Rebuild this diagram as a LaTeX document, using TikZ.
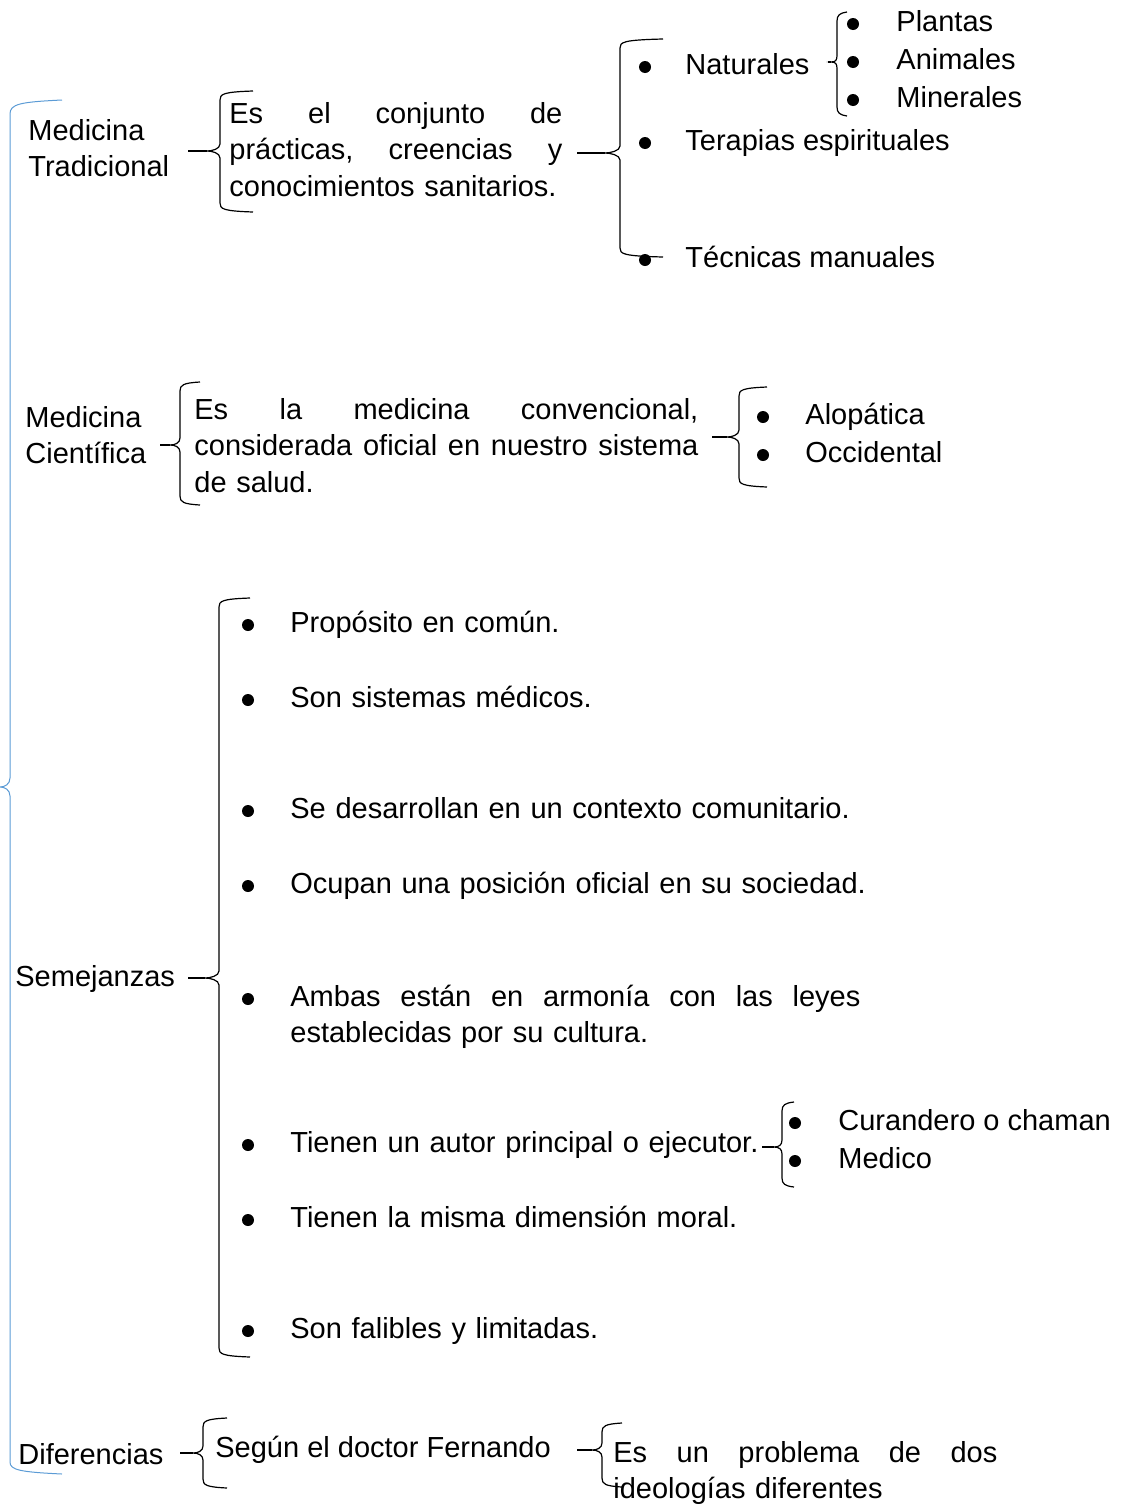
\documentclass[tikz,border=0pt]{standalone}
\usepackage{fontspec}
\setmainfont{Liberation Sans}
\usepackage{tikz}

\begin{document}
\begin{tikzpicture}[x=0.5pt,y=-0.5pt,
  txt/.style={anchor=base west,inner sep=0pt,font=\fontsize{14.5}{18.25}\selectfont},
  para/.style={txt,text width=#1,align=left},
  dot/.style={circle,fill,inner sep=0pt,minimum size=6pt},
  brace/.style={line width=0.6pt}]
\useasboundingbox (0,0) rectangle (1130,1505);

% blue brace round the whole
\draw[line width=0.5pt,color={rgb,255:red,91;green,155;blue,213}]
  (62,100) .. controls (20,102) and (10,104) .. (10,114)
  -- (10,778) .. controls (10,784) and (5,787) .. (0,787)
  .. controls (5,787) and (10,790) .. (10,796)
  -- (10,1462) .. controls (10,1470) and (20,1472) .. (62,1474);

% braces
\foreach \bx/\bt/\bb/\bm/\be/\bw/\bs in {220/91/212/151/33/13/188,
    620/39/257/153/43/15/577, 837/12/116/62/10/6/828,
    180/382/505/445/20/10/160, 739/387/487/437/28/12/712,
    219/598/1357/978/31/14/188, 782/1102/1187/1147/12/8/762,
    203/1418/1488/1453/24/10/180, 602/1423/1487/1450/20/10/577} {
\draw[brace] (\bx+\be,\bt) .. controls (\bx+3,\bt+1) and (\bx,\bt+3) .. (\bx,\bt+9)
  -- (\bx,\bm-7) .. controls (\bx,\bm-2) and (\bx-\bw+5,\bm) .. (\bx-\bw,\bm)
  .. controls (\bx-\bw+5,\bm) and (\bx,\bm+2) .. (\bx,\bm+7)
  -- (\bx,\bb-9) .. controls (\bx,\bb-3) and (\bx+3,\bb-1) .. (\bx+\be,\bb);
\draw[brace] (\bs,\bm) -- (\bx-\bw,\bm);
}

% medicina tradicional
\node[para=80pt] (trad) at (28,140) {Medicina\\Tradicional};
\node[para=170pt] (tradtxt) at (229,123) {\makebox[166.5pt][l]{Es\hfill el\hfill conjunto\hfill de}\\
  \makebox[166.5pt][l]{prácticas,\hfill creencias\hfill y}\\conocimientos sanitarios.};
\foreach \y/\t [count=\i] in {74/Naturales,150/Terapias espirituales,267/Técnicas manuales} {
\node[dot] (td\i) at (645,\y-7) {};
\node[txt] (tt\i) at (685,\y) {\t};
}
\foreach \y/\t [count=\i] in {31/Plantas,69/Animales,107/Minerales} {
\node[dot] (nd\i) at (853,\y-7) {};
\node[txt] (nt\i) at (896,\y) {\t};
}

% medicina cientifica
\node[para=80pt] (cien) at (25,427) {Medicina\\Científica};
\node[para=255pt] (cientxt) at (194,419) {\makebox[252pt][l]{Es\hfill la\hfill medicina\hfill convencional,}\\
  \makebox[252pt][l]{considerada\hfill oficial\hfill en\hfill nuestro\hfill sistema}\\de salud.};
\foreach \y/\t [count=\i] in {424/Alopática,462/Occidental} {
\node[dot] (cd\i) at (763,\y-7) {};
\node[txt] (ct\i) at (805,\y) {\t};
}

% semejanzas
\node[txt] (seme) at (15,986) {Semejanzas};
\foreach \y/\t [count=\i] in {632/Propósito en común., 707/Son sistemas médicos.,
    818/Se desarrollan en un contexto comunitario.,
    893/Ocupan una posición oficial en su sociedad.,
    1006/{\makebox[285pt][l]{Ambas\hfill están\hfill en\hfill armonía\hfill con\hfill las\hfill leyes}\\establecidas por su cultura.},
    1152/Tienen un autor principal o ejecutor., 1227/Tienen la misma dimensión moral.,
    1338/Son falibles y limitadas.} {
\node[dot] (sd\i) at (248,\y-7) {};
\node[para=300pt] (st\i) at (290,\y) {\t};
}
\foreach \y/\t [count=\i] in {1130/Curandero o chaman,1168/Medico} {
\node[dot] (ad\i) at (795,\y-7) {};
\node[txt] (at\i) at (838,\y) {\t};
}

% diferencias
\node[txt] (dife) at (18,1464) {Diferencias};
\node[txt] (segun) at (215,1457) {Según el doctor Fernando};
\node[para=195pt] (probl) at (613,1462) {\makebox[192pt][l]{Es\hfill un\hfill problema\hfill de\hfill dos}\\
  ideologías diferentes};
\end{tikzpicture}
\end{document}
